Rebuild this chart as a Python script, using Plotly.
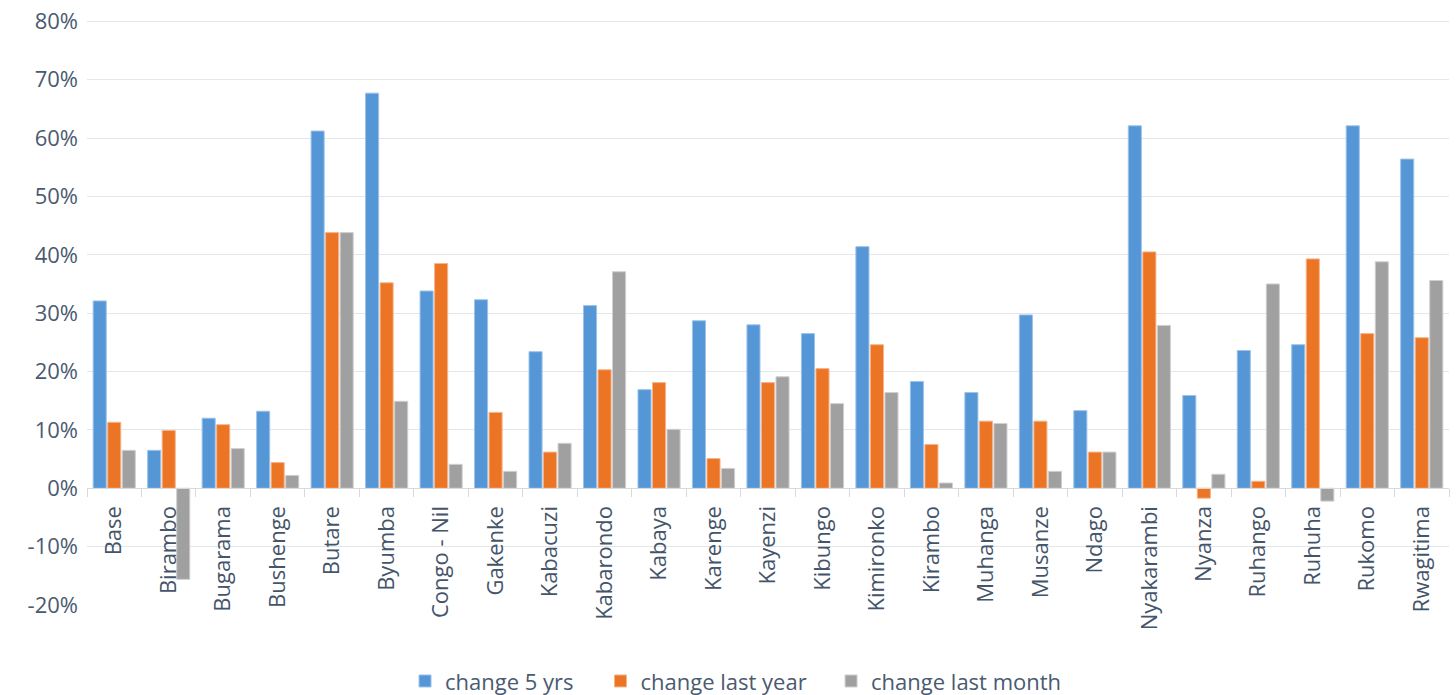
import plotly.graph_objects as go

categories = ["Base", "Birambo", "Bugarama", "Bushenge", "Butare", "Byumba", "Congo - Nil",
              "Gakenke", "Kabacuzi", "Kabarondo", "Kabaya", "Karenge", "Kayenzi", "Kibungo",
              "Kimironko", "Kirambo", "Muhanga", "Musanze", "Ndago", "Nyakarambi", "Nyanza",
              "Ruhango", "Ruhuha", "Rukomo", "Rwagitima"]

change_5_yrs = [32.1, 6.5, 12.0, 13.2, 61.2, 67.7, 33.8, 32.3, 23.4, 31.3, 16.9, 28.7, 28.0, 26.5,
                41.4, 18.3, 16.4, 29.7, 13.3, 62.1, 15.9, 23.6, 24.6, 62.1, 56.4]
change_last_year = [11.3, 9.9, 10.9, 4.4, 43.8, 35.2, 38.5, 13.0, 6.2, 20.3, 18.1, 5.1, 18.1, 20.5,
                    24.6, 7.5, 11.5, 11.5, 6.2, 40.5, -1.7, 1.2, 39.3, 26.5, 25.8]
change_last_month = [6.5, -15.6, 6.8, 2.2, 43.8, 14.9, 4.1, 2.9, 7.7, 37.1, 10.1, 3.4, 19.1, 14.5,
                     16.4, 0.9, 11.1, 2.9, 6.2, 27.9, 2.4, 35.0, -2.2, 38.8, 35.6]

y_tick_vals = [-0.2, -0.1, 0.0, 0.1, 0.2, 0.3, 0.4, 0.5, 0.6, 0.7, 0.8]
y_tick_text = ["-20%", "-10%", "0%", "10%", "20%", "30%", "40%", "50%", "60%", "70%", "80%"]

series = [
    ("change 5 yrs", change_5_yrs, "#5596d6", "#9cc3ea", "legend", 0.2335),
    ("change last year", change_last_year, "#ec7425", "#f6b48a", "legend2", 0.3770),
    ("change last month", change_last_month, "#a0a0a0", "#cfcfcf", "legend3", 0.5463),
]

fig = go.Figure()
legend_layouts = {}
for name, vals, col, edge, leg, lx in series:
    fig.add_trace(go.Bar(
        x=categories, y=[v / 100 for v in vals], name=name, legend=leg,
        marker=dict(color=col, line=dict(color=edge, width=1)),
    ))
    legend_layouts[leg] = dict(orientation="h", x=lx, xanchor="left", y=-0.13, yanchor="middle",
                               font=dict(size=22, color="#4a5a70"), bgcolor="rgba(0,0,0,0)")

font_family = "Open Sans, Noto Sans, sans-serif"
fig.update_layout(
    width=1456, height=695,
    margin=dict(l=87, r=7, t=19, b=90, autoexpand=False),
    paper_bgcolor="white", plot_bgcolor="white",
    barmode="group", bargap=0.2, bargroupgap=0.1,
    font=dict(family=font_family, color="#4a5a70"),
    showlegend=True,
    xaxis=dict(
        type="category", tickangle=-90, tickfont=dict(size=22, color="#44546a"),
        anchor="free", position=0.2 / 1.004, showline=True, linecolor="#d9d9d9", linewidth=1,
        ticks="outside", ticklen=8, tickcolor="#d9d9d9", tickson="boundaries",
        ticklabelstandoff=8, showgrid=False, automargin=False,
    ),
    yaxis=dict(
        range=[-0.2, 0.804], tickmode="array", tickvals=y_tick_vals, ticktext=y_tick_text,
        tickfont=dict(size=22, color="#4a5a70"), ticklabeloverflow="allow",
        showgrid=True, gridcolor="#e3e6ea", gridwidth=1, zeroline=False,
        ticklabelstandoff=8, domain=[0, 1], automargin=False,
    ),
    **legend_layouts,
)

fig.write_html("out.html", config={"displayModeBar": False},
               post_script="document.body.style.margin='0px';")
